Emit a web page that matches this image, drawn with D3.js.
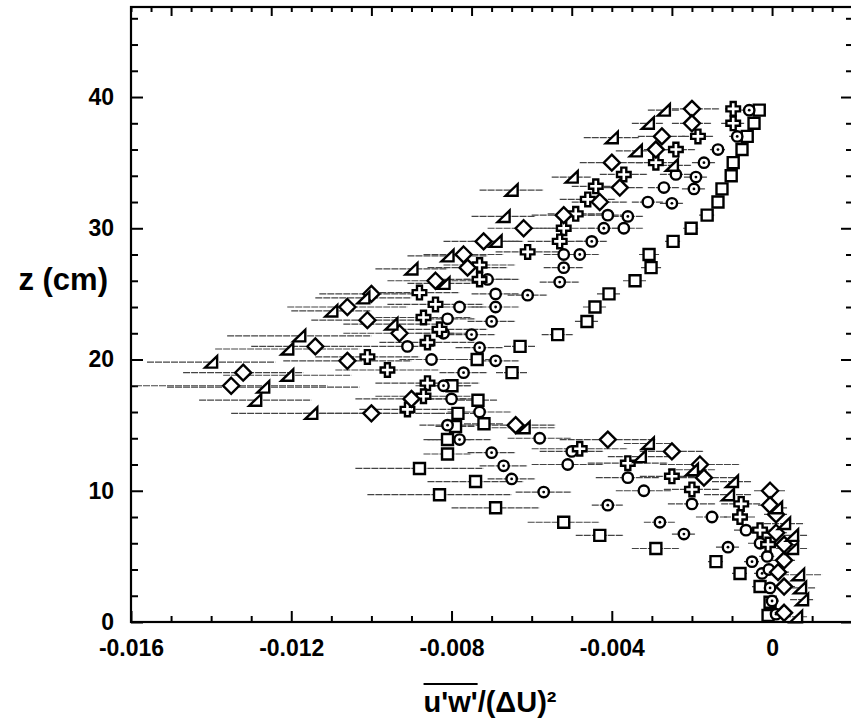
<!DOCTYPE html>
<html>
<head>
<meta charset="utf-8">
<script src="https://cdn.jsdelivr.net/npm/d3@7"></script>
<style>
  html, body { margin: 0; padding: 0; background: #fff; }
  svg { display: block; }
  text { font-family: "Liberation Sans", Arial, Helvetica, sans-serif; font-weight: bold; fill: #000; }
</style>
</head>
<body>
<svg id="chart" width="851" height="721"></svg>
<script>
// Momentum flux profiles: u'w'/(ΔU)^2 versus height z (cm), six profile sets.

const xMajorTicks = [-0.016, -0.012, -0.008, -0.004, 0];
const topMajorTicks = [-0.015, -0.0125, -0.01, -0.0075, -0.005, -0.0025, 0];
const zMajorTicks = [0, 10, 20, 30, 40];

// open squares
const squareZ = [39.0, 38.0, 37.0, 36.0, 35.0, 34.0, 33.0, 32.0, 31.0, 30.0, 29.0, 28.0, 27.0, 26.0, 25.0, 24.0, 22.9, 21.9, 21.0, 20.0, 19.0, 18.0, 16.9, 15.9, 15.1, 14.9, 13.9, 12.8, 11.7, 10.7, 9.7, 8.7, 7.6, 6.6, 5.6, 4.6, 3.7, 2.7, 1.5, 0.5];
const squareU = [-0.00032, -0.00045, -0.00062, -0.00075, -0.00097, -0.00102, -0.00125, -0.00135, -0.00162, -0.00202, -0.00247, -0.00307, -0.00302, -0.00342, -0.00407, -0.00442, -0.00462, -0.00535, -0.00629, -0.00736, -0.00649, -0.00799, -0.00734, -0.00784, -0.00719, -0.0079, -0.0081, -0.0081, -0.0088, -0.0074, -0.0083, -0.0069, -0.0052, -0.0043, -0.0029, -0.0014, -0.0008, -0.0003, -0.00005, -0.0001];
const squareErr = [0.0001, 0.0001, 0.0001, 0.0001, 0.0001, 0.0001, 0.00015, 0.00015, 0.0002, 0.0002, 0.0002, 0.00025, 0.00025, 0.0003, 0.0003, 0.0003, 0.0003, 0.0004, 0.0004, 0.0004, 0.0004, 0.0005, 0.0005, 0.0005, 0.0005, 0.0005, 0.0006, 0.0006, 0.0016, 0.0012, 0.0018, 0.0011, 0.0009, 0.0006, 0.0006, 0.0002, 0.0002, 0.0002, 0.0001, 0.0001];

// circles with centre dot
const dotZ = [39.0, 37.0, 36.0, 35.0, 33.9, 33.0, 31.9, 30.9, 30.0, 29.0, 28.0, 27.0, 25.9, 24.9, 24.0, 22.9, 21.9, 20.9, 19.9, 19.0, 18.0, 15.0, 13.9, 12.9, 11.9, 10.9, 9.9, 8.9, 7.6, 6.7, 5.7, 4.6, 3.7, 2.6, 1.6, 0.6];
const dotU = [-0.00057, -0.00087, -0.00135, -0.0017, -0.0019, -0.00195, -0.0025, -0.0036, -0.0042, -0.0045, -0.0048, -0.0052, -0.0053, -0.0061, -0.0069, -0.0070, -0.0075, -0.0073, -0.0069, -0.0077, -0.0082, -0.0081, -0.0078, -0.0070, -0.0067, -0.0065, -0.0057, -0.0041, -0.0028, -0.0022, -0.0011, -0.0005, -0.00025, -0.00005, 0.0, 0.0001];
const dotErr = [0.0002, 0.0002, 0.0002, 0.0003, 0.0003, 0.0003, 0.0003, 0.0004, 0.0004, 0.0004, 0.0005, 0.0005, 0.0005, 0.0005, 0.0006, 0.0006, 0.0006, 0.0006, 0.0006, 0.0006, 0.0007, 0.0007, 0.0008, 0.0006, 0.0006, 0.0006, 0.0007, 0.0004, 0.0004, 0.0003, 0.0003, 0.0002, 0.0002, 0.0002, 0.0002, 0.0002];

// plain open circles
const ringZ = [34.1, 33.1, 32.0, 31.0, 30.0, 28.0, 26.1, 25.0, 24.0, 23.1, 22.0, 21.0, 20.0, 17.0, 16.0, 14.0, 13.0, 12.0, 11.0, 10.0, 9.0, 8.0, 7.0, 6.0, 5.0, 4.0];
const ringU = [-0.0024, -0.0027, -0.0031, -0.0041, -0.0037, -0.0052, -0.0071, -0.0069, -0.0078, -0.0081, -0.0082, -0.0091, -0.0085, -0.0080, -0.0073, -0.0058, -0.0050, -0.0051, -0.0036, -0.0032, -0.0020, -0.0015, -0.00065, -0.0003, -0.00012, -0.00008];
const ringErr = [0.0004, 0.0004, 0.0004, 0.0005, 0.0005, 0.0005, 0.0006, 0.0006, 0.0006, 0.0007, 0.0007, 0.0007, 0.0008, 0.0008, 0.0008, 0.0008, 0.0008, 0.0009, 0.0008, 0.0007, 0.0006, 0.0004, 0.0003, 0.0003, 0.0002, 0.0002];

// open crosses
const crossZ = [39.1, 38.0, 37.0, 36.0, 35.0, 34.1, 33.2, 32.2, 31.1, 30.0, 29.0, 28.2, 27.2, 26.1, 25.1, 24.2, 23.2, 22.3, 21.3, 20.2, 19.2, 18.2, 17.2, 16.2, 13.2, 12.1, 11.1, 10.1, 9.0, 8.0, 7.0, 5.9];
const crossU = [-0.00097, -0.00097, -0.00185, -0.0024, -0.0029, -0.0037, -0.0044, -0.0046, -0.0049, -0.0052, -0.0053, -0.0061, -0.0073, -0.0073, -0.0088, -0.0084, -0.0087, -0.0083, -0.0086, -0.0101, -0.0096, -0.0086, -0.0087, -0.0091, -0.0048, -0.0036, -0.0025, -0.0020, -0.00077, -0.0008, -0.0003, -0.0001];
const crossErr = [0.0002, 0.0003, 0.0004, 0.0005, 0.0005, 0.0006, 0.0006, 0.0007, 0.0007, 0.0008, 0.0008, 0.0008, 0.0009, 0.0010, 0.0010, 0.0012, 0.0012, 0.0012, 0.0012, 0.0013, 0.0013, 0.0013, 0.0012, 0.0012, 0.0012, 0.0010, 0.0008, 0.0007, 0.0005, 0.0004, 0.0003, 0.0002];

// open diamonds
const diamondZ = [39.1, 38.0, 37.0, 36.0, 35.0, 33.1, 32.0, 31.0, 30.0, 29.0, 28.0, 27.0, 26.0, 25.0, 24.0, 23.0, 22.0, 21.0, 19.9, 19.0, 18.0, 17.0, 15.9, 15.0, 13.9, 13.0, 12.0, 11.0, 10.0, 8.9, 8.2, 6.8, 5.9, 4.7, 3.8, 2.7, 0.7];
const diamondU = [-0.0020, -0.0020, -0.00275, -0.0029, -0.0040, -0.0038, -0.0043, -0.0052, -0.0062, -0.0072, -0.0077, -0.0076, -0.0084, -0.0100, -0.0106, -0.0101, -0.0093, -0.0114, -0.0106, -0.0132, -0.0135, -0.0090, -0.0100, -0.0064, -0.0041, -0.0025, -0.0018, -0.0017, -0.00005, -0.00005, 0.0001, 0.0001, 0.0003, 0.0003, 0.00015, 0.0003, 0.0003];
const diamondErr = [0.0007, 0.0005, 0.0006, 0.0005, 0.0008, 0.0006, 0.0007, 0.0008, 0.0009, 0.0010, 0.0010, 0.0010, 0.0012, 0.0013, 0.0015, 0.0014, 0.0014, 0.0016, 0.0016, 0.0015, 0.0024, 0.0014, 0.0017, 0.0010, 0.0012, 0.0008, 0.0010, 0.0008, 0.0004, 0.0003, 0.0003, 0.0003, 0.0003, 0.0003, 0.0003, 0.0003, 0.0002];

// open right triangles
const triZ = [39.0, 38.0, 36.9, 35.9, 34.8, 33.9, 32.9, 30.9, 29.0, 27.9, 26.9, 25.8, 24.7, 23.7, 22.7, 21.8, 20.8, 19.8, 18.8, 17.9, 16.9, 15.9, 14.8, 13.6, 12.6, 11.6, 10.7, 9.7, 8.7, 7.5, 6.6, 5.6, 3.6, 2.6, 1.7, 0.4];
const triU = [-0.0027, -0.0031, -0.0040, -0.0034, -0.0025, -0.0050, -0.0065, -0.0067, -0.0069, -0.0081, -0.0090, -0.0082, -0.0102, -0.0110, -0.0095, -0.0118, -0.0121, -0.0140, -0.0121, -0.0127, -0.0129, -0.0115, -0.0062, -0.0031, -0.0033, -0.0020, -0.0010, -0.0011, 0.0001, 0.0003, 0.0005, 0.0005, 0.00065, 0.0007, 0.00075, 0.0006];
const triErr = [0.0004, 0.0004, 0.0007, 0.0005, 0.0005, 0.0005, 0.0008, 0.0008, 0.0006, 0.0010, 0.0009, 0.0009, 0.0012, 0.0010, 0.0012, 0.0018, 0.0018, 0.0016, 0.0016, 0.0024, 0.0014, 0.0020, 0.0008, 0.0006, 0.0008, 0.0006, 0.0005, 0.0006, 0.0003, 0.0005, 0.0004, 0.0004, 0.0006, 0.0004, 0.0003, 0.0003];

// marker outlines, centred on the data point
const shapes = {
  square: "M-5.5,-5.5H5.5V5.5H-5.5Z",
  diamond: "M0,-8L8,0L0,8L-8,0Z",
  cross: "M-2.5,-6.8H2.5V-2.5H6.8V2.5H2.5V6.8H-2.5V2.5H-6.8V-2.5H-2.5Z",
  triangle: "M-6,5.5H6V-6Z",
  ring: null,
  dot: null
};

const series = [
  { shape: "square", z: squareZ, u: squareU, e: squareErr },
  { shape: "dot", z: dotZ, u: dotU, e: dotErr },
  { shape: "ring", z: ringZ, u: ringU, e: ringErr },
  { shape: "cross", z: crossZ, u: crossU, e: crossErr },
  { shape: "diamond", z: diamondZ, u: diamondU, e: diamondErr },
  { shape: "triangle", z: triZ, u: triU, e: triErr }
];

const svg = d3.select("#chart");
const plotLeft = 131, plotRight = 853, plotTop = 7, plotBottom = 622;

const x = d3.scaleLinear().domain([-0.016, 0.00202]).range([plotLeft, plotRight]);
const y = d3.scaleLinear().domain([0, 46.86]).range([plotBottom, plotTop]);

const near = (a, list) => list.some(b => Math.abs(a - b) < 1e-9);
const xMinor = d3.range(-16, 2).map(k => k / 1000).filter(v => !near(v, xMajorTicks));
const topMinor = d3.range(-32, 4).map(k => k / 2000).filter(v => !near(v, topMajorTicks));
const zMinor = d3.range(0, 47, 2).filter(v => !near(v, zMajorTicks));

const fmt = v => (Math.abs(v) < 1e-12 ? "0" : v.toFixed(3));

function styleAxis(g) {
  g.select(".domain").remove();
  g.selectAll(".tick line").attr("stroke", "#000").attr("stroke-width", 2);
  g.selectAll(".tick text").attr("font-size", 23).attr("font-family", null).attr("fill", "#000");
}

// bottom axis
svg.append("g").attr("transform", `translate(0,${plotBottom})`)
  .call(d3.axisBottom(x).tickValues(xMinor).tickSize(-6).tickFormat(""))
  .call(styleAxis);
svg.append("g").attr("transform", `translate(0,${plotBottom})`)
  .call(d3.axisBottom(x).tickValues(xMajorTicks).tickSize(-11).tickPadding(18).tickFormat(fmt))
  .call(styleAxis);

// top axis
svg.append("g").attr("transform", `translate(0,${plotTop})`)
  .call(d3.axisTop(x).tickValues(topMinor).tickSize(-5).tickFormat(""))
  .call(styleAxis);
svg.append("g").attr("transform", `translate(0,${plotTop})`)
  .call(d3.axisTop(x).tickValues(topMajorTicks).tickSize(-9).tickFormat(""))
  .call(styleAxis);

// left axis
svg.append("g").attr("transform", `translate(${plotLeft},0)`)
  .call(d3.axisLeft(y).tickValues(zMinor).tickSize(-7).tickFormat(""))
  .call(styleAxis);
svg.append("g").attr("transform", `translate(${plotLeft},0)`)
  .call(d3.axisLeft(y).tickValues(zMajorTicks).tickSize(-12).tickPadding(17).tickFormat(d3.format("d")))
  .call(styleAxis);

// right axis
svg.append("g").attr("transform", `translate(${plotRight},0)`)
  .call(d3.axisRight(y).tickValues(zMinor).tickSize(-7).tickFormat(""))
  .call(styleAxis);
svg.append("g").attr("transform", `translate(${plotRight},0)`)
  .call(d3.axisRight(y).tickValues(zMajorTicks).tickSize(-12).tickFormat(""))
  .call(styleAxis);

// frame
svg.append("rect")
  .attr("x", plotLeft).attr("y", plotTop)
  .attr("width", plotRight - plotLeft).attr("height", plotBottom - plotTop)
  .attr("fill", "none").attr("stroke", "#000").attr("stroke-width", 2.2);

const rows = series.flatMap(s => s.z.map((z, i) => ({ shape: s.shape, z, u: s.u[i], e: s.e[i] })));

// horizontal error bars
svg.append("g").selectAll("line").data(rows).join("line")
  .attr("x1", d => x(d.u - d.e)).attr("x2", d => x(d.u + d.e))
  .attr("y1", d => y(d.z)).attr("y2", d => y(d.z))
  .attr("stroke", "#444").attr("stroke-width", 1.2)
  .attr("stroke-dasharray", "7,1");

// markers
const marks = svg.append("g").selectAll("g").data(rows).join("g")
  .attr("transform", d => `translate(${x(d.u)},${y(d.z)})`);

marks.filter(d => shapes[d.shape])
  .append("path")
  .attr("d", d => shapes[d.shape])
  .attr("fill", "#fff").attr("stroke", "#000").attr("stroke-width", 2.4)
  .attr("stroke-linejoin", "miter");

marks.filter(d => d.shape === "ring" || d.shape === "dot")
  .append("circle").attr("r", 5.2)
  .attr("fill", "#fff").attr("stroke", "#000").attr("stroke-width", 2.4);

marks.filter(d => d.shape === "dot")
  .append("circle").attr("r", 1.4).attr("fill", "#000");

// axis titles
svg.append("text")
  .attr("x", 108).attr("y", 290)
  .attr("text-anchor", "end").attr("font-size", 31)
  .text("z (cm)");

const title = svg.append("text")
  .attr("x", 490).attr("y", 712)
  .attr("text-anchor", "middle").attr("font-size", 29);
title.append("tspan").text("u'w'");
title.append("tspan").text("/(ΔU)²");

const tn = title.node();
const x0 = tn.getStartPositionOfChar(0).x;
const w0 = tn.getSubStringLength(0, 4);
svg.append("line")
  .attr("x1", x0).attr("x2", x0 + w0)
  .attr("y1", 684).attr("y2", 684)
  .attr("stroke", "#000").attr("stroke-width", 2.2);
</script>
</body>
</html>
